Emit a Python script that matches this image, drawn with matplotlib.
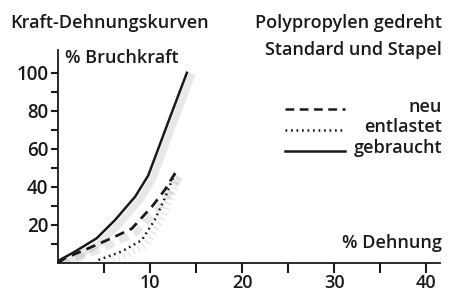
import matplotlib.pyplot as plt
import matplotlib.patheffects as pe

# Kraft-Dehnungskurven, Polypropylen gedreht
x_gebraucht = [0, 0.2, 1.85, 4.2, 6.2, 8.4, 9.8, 10.5, 12.2, 14]
y_gebraucht = [0, 1.6, 6, 13, 22.6, 35, 46, 55, 77, 100]

x_neu = [0, 0.76, 3.3, 5.8, 8, 10.2, 11.6, 12.7, 13.1]
y_neu = [0, 2.5, 7.7, 13, 18, 29.6, 38.4, 47, 49]

x_entlastet = [4.4, 6.9, 9.1, 10.5, 11.6, 12.4, 12.7]
y_entlastet = [1.6, 6, 12, 22.6, 34, 43.7, 47]

xticks_major = [10, 20, 30, 40]
xticks_minor = [5, 15, 25, 35]
yticks_major = [20, 40, 60, 80, 100]
yticks_minor = [10, 30, 50, 70, 90]

plt.rcParams['font.family'] = ['Open Sans', 'DejaVu Sans']
plt.rcParams['font.weight'] = 'semibold'

fig = plt.figure(figsize=(4.51, 2.95), dpi=100)
ax = fig.add_axes([58 / 451, 32 / 295, 382 / 451, 213 / 295])

tcol = '#1a1a1a'
shadow = [pe.SimpleLineShadow(offset=(3, -3), shadow_color='0.5', alpha=0.18, linewidth=5), pe.Normal()]

ax.plot(x_gebraucht, y_gebraucht, color=tcol, lw=1.8, path_effects=shadow, solid_joinstyle='round')
ax.plot(x_neu, y_neu, color=tcol, lw=2, linestyle=(0, (3.5, 2.2)), path_effects=shadow)
ax.plot(x_entlastet, y_entlastet, color=tcol, lw=1.8, linestyle=(0, (0.7, 1.5)), path_effects=shadow)

ax.set_xlim(0, 41.5)
ax.set_ylim(0, 112)

for s in ['top', 'right']:
    ax.spines[s].set_visible(False)
for s in ['left', 'bottom']:
    ax.spines[s].set_linewidth(1.3)
    ax.spines[s].set_color(tcol)

ax.set_xticks(xticks_major)
ax.set_xticks(xticks_minor, minor=True)
ax.set_yticks(yticks_major)
ax.set_yticks(yticks_minor, minor=True)
ax.tick_params(axis='both', which='both', direction='out', width=1.5,
               color=tcol, labelsize=13.5, labelcolor=tcol)
ax.tick_params(axis='x', which='both', length=7, pad=1, labelsize=13)
ax.tick_params(axis='y', which='both', length=5, pad=2)

fs = 13
fig.text(10 / 451, 1 - 28 / 295, 'Kraft-Dehnungskurven', fontsize=fs, color=tcol, ha='left', va='baseline')
fig.text(442 / 451, 1 - 28 / 295, 'Polypropylen gedreht', fontsize=fs, color=tcol, ha='right', va='baseline')
fig.text(442 / 451, 1 - 55 / 295, 'Standard und Stapel', fontsize=fs, color=tcol, ha='right', va='baseline')
fig.text(65 / 451, 1 - 63 / 295, '% Bruchkraft', fontsize=fs, color=tcol, ha='left', va='baseline')
fig.text(442 / 451, 1 - 248 / 295, '% Dehnung', fontsize=fs, color=tcol, ha='right', va='baseline')

# legend drawn by hand
leg_labels = ['neu', 'entlastet', 'gebraucht']
leg_styles = [(0, (3.5, 2.2)), (0, (0.7, 1.5)), '-']
leg_line_y = [109, 130, 151]
leg_text_y = [112, 132, 153]
for lab, ls, ly, ty in zip(leg_labels, leg_styles, leg_line_y, leg_text_y):
    fig.add_artist(plt.Line2D([285 / 451, 345 / 451], [1 - ly / 295, 1 - ly / 295],
                              color=tcol, lw=1.8, linestyle=ls, transform=fig.transFigure))
    fig.text(442 / 451, 1 - ty / 295, lab, fontsize=fs, color=tcol, ha='right', va='baseline')

fig.savefig('out.png', dpi=100)
